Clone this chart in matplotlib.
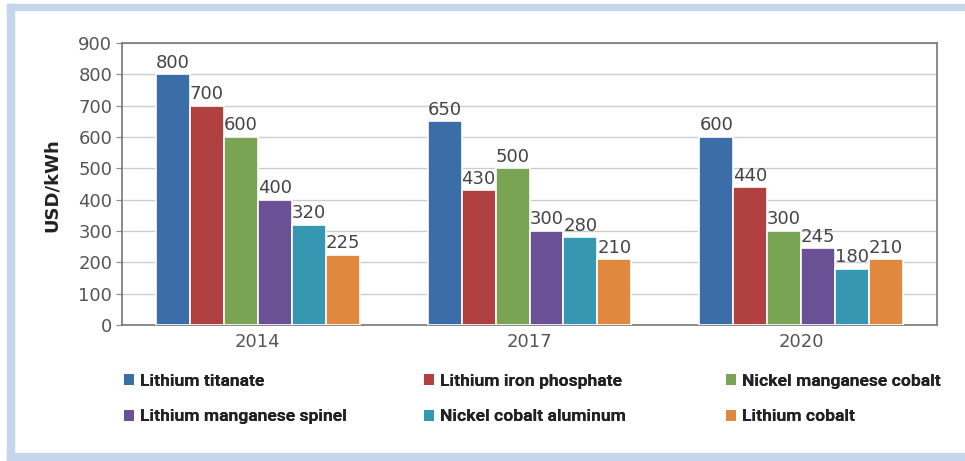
import matplotlib
matplotlib.use("Agg")
import matplotlib.pyplot as plt
from matplotlib.patches import Rectangle, Patch
import numpy as np

years = ["2014", "2017", "2020"]
chemistries = ["Lithium titanate", "Lithium iron phosphate", "Nickel manganese cobalt",
               "Lithium manganese spinel", "Nickel cobalt aluminum", "Lithium cobalt"]
lithium_titanate = [800, 650, 600]
lithium_iron_phosphate = [700, 430, 440]
nickel_manganese_cobalt = [600, 500, 300]
lithium_manganese_spinel = [400, 300, 245]
nickel_cobalt_aluminum = [320, 280, 180]
lithium_cobalt = [225, 210, 210]
series = [lithium_titanate, lithium_iron_phosphate, nickel_manganese_cobalt,
          lithium_manganese_spinel, nickel_cobalt_aluminum, lithium_cobalt]
colors = ["#3b6ea8", "#b04140", "#79a454", "#6a5195", "#3597b1", "#e0883d"]

plt.rcParams["font.family"] = ["DejaVu Sans"]

fig = plt.figure(figsize=(9.65, 4.61), dpi=100)
ax = fig.add_axes([122 / 965, 1 - 325 / 461, (937 - 122) / 965, (325 - 43) / 461])

# Outer light blue frame (top, left, bottom)
frame_c = "#c5d5ec"
fig.patches.append(Rectangle((7 / 965, 1 - 10 / 461), 1, 6 / 461, transform=fig.transFigure,
                             color=frame_c, zorder=0))
fig.patches.append(Rectangle((7 / 965, 0), 7 / 965, 1 - 4 / 461, transform=fig.transFigure,
                             color=frame_c, zorder=0))
fig.patches.append(Rectangle((7 / 965, 0), 1, 8 / 461, transform=fig.transFigure,
                             color=frame_c, zorder=0))

x = np.arange(len(years))
slot = 0.125
for i, (vals, c) in enumerate(zip(series, colors)):
    pos = x + (i - 2.5) * slot
    ax.bar(pos, vals, width=slot, color=c, edgecolor="white", linewidth=1.2, zorder=3)
    for p, v in zip(pos, vals):
        ax.text(p, v + 8, str(v), ha="center", va="bottom", fontsize=13, color="#444444")

ax.set_xlim(-0.5, 2.5)
ax.set_ylim(0, 900)
ax.set_yticks(range(0, 901, 100))
ax.set_xticks(x)
ax.set_xticklabels(years)
ax.tick_params(axis="y", length=4, color="#888888", labelsize=13, labelcolor="#555555", pad=3)
ax.tick_params(axis="x", length=0, labelsize=13, labelcolor="#555555", pad=6)
ax.yaxis.grid(True, color="#cccccc", linewidth=1, zorder=0)
ax.set_axisbelow(True)
for s in ax.spines.values():
    s.set_color("#777777")
    s.set_linewidth(1.2)

fig.text(52 / 965, 1 - 185 / 461, "USD/kWh", rotation=90, ha="center", va="center",
         fontsize=13, fontweight="bold", color="#222222")

# Legend: three columns, two rows
handles = [Patch(facecolor=c) for c in colors]
col_x = [115 / 965, 415 / 965, 717 / 965]
for j in range(3):
    leg = fig.legend([handles[j], handles[j + 3]], [chemistries[j], chemistries[j + 3]],
                     loc="upper left", bbox_to_anchor=(col_x[j], 1 - 365 / 461),
                     frameon=False, prop={"family": "Roboto", "weight": "bold", "size": 12.6},
                     handlelength=0.6, handleheight=0.6, handletextpad=0.3,
                     labelspacing=1.18, labelcolor="#222222", borderpad=0)
    fig.add_artist(leg)

plt.savefig("out.png", dpi=100)
plt.close()
